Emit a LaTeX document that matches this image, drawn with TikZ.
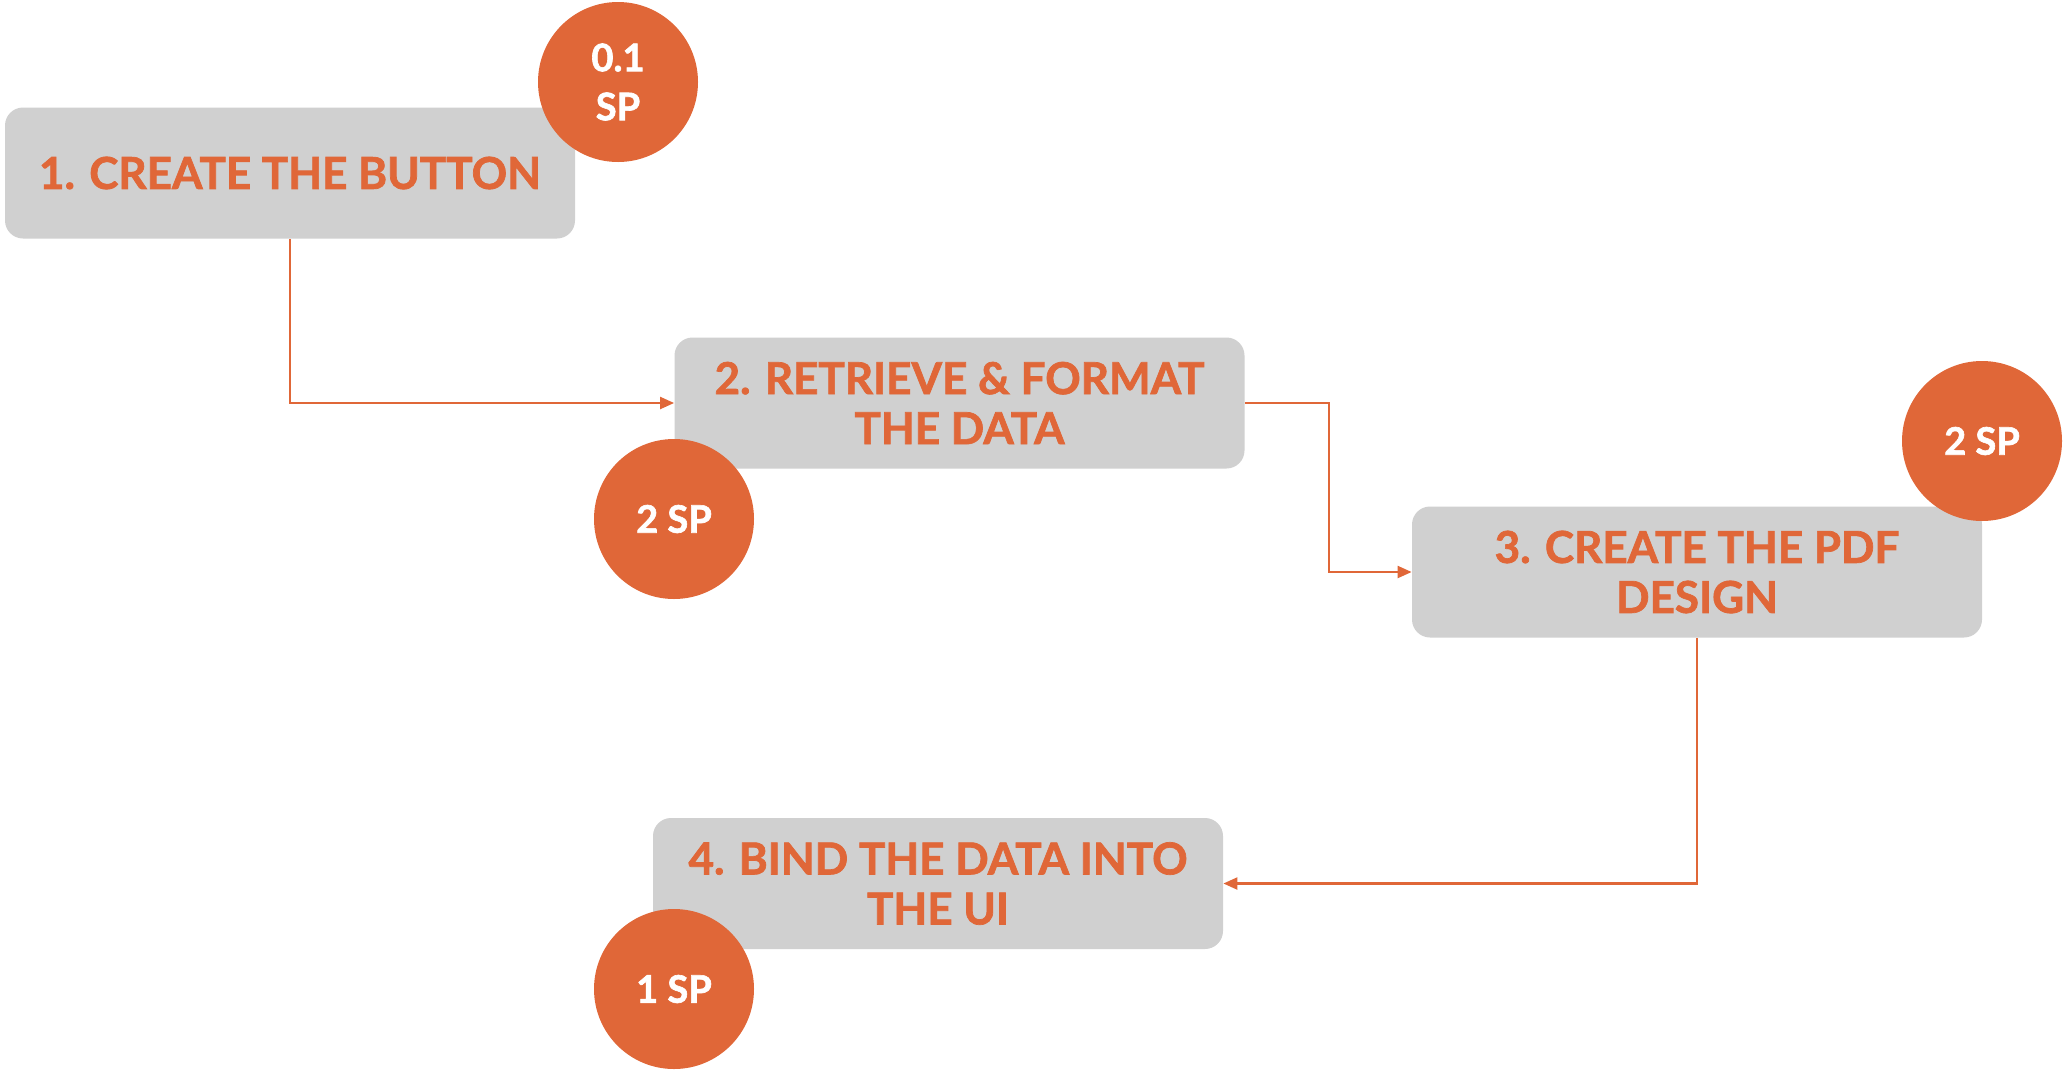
\documentclass[tikz,border=0pt]{standalone}
\usepackage{fontspec}
\setmainfont{Lato}[BoldFeatures={FakeBold=1.6}]
\usepackage{tikz}
\usetikzlibrary{arrows.meta}

\definecolor{spOrange}{RGB}{224,103,56}
\definecolor{stepGray}{RGB}{208,208,208}

\begin{document}
\begin{tikzpicture}[x=0.5pt, y=-0.5pt,
	taskbox/.style={fill=stepGray, rounded corners=9pt, minimum width=285pt, minimum height=65.5pt,
		inner sep=0pt, align=center, text=spOrange, font=\bfseries\fontsize{22}{25}\selectfont},
	spdot/.style={circle, fill=spOrange, minimum size=80pt, inner sep=0pt, align=center,
		text=white, font=\bfseries\fontsize{19}{24.5}\selectfont},
	flow/.style={draw=spOrange, line width=1.1pt, -{Triangle[length=7pt, width=6pt]}}]
	\useasboundingbox (0,0) rectangle (2066,1072);
	
	% --- 任务框 ---
	\node[taskbox] (b1) at (290,173) {1. CREATE THE BUTTON};
	\node[taskbox] (b2) at (959.5,403) {2. RETRIEVE \& FORMAT\\THE DATA};
	\node[taskbox] (b3) at (1697,572) {3. CREATE THE PDF\\DESIGN};
	\node[taskbox] (b4) at (938,883.5) {4. BIND THE DATA INTO\\THE UI};
	
	% --- 连线 ---
	\draw[flow] (b1.south) |- (b2.west);
	\draw[flow] (b2.east) -- ++(84,0) |- (b3.west);
	\draw[flow] (b3.south) |- (b4.east);
	
	% --- 故事点 ---
	\node[spdot] (sp1) at (618,82) {0.1\\SP};
	\node[spdot] (sp2) at (674,519) {2 SP};
	\node[spdot] (sp3) at (1982,441) {2 SP};
	\node[spdot] (sp4) at (674,989) {1 SP};
\end{tikzpicture}
\end{document}
